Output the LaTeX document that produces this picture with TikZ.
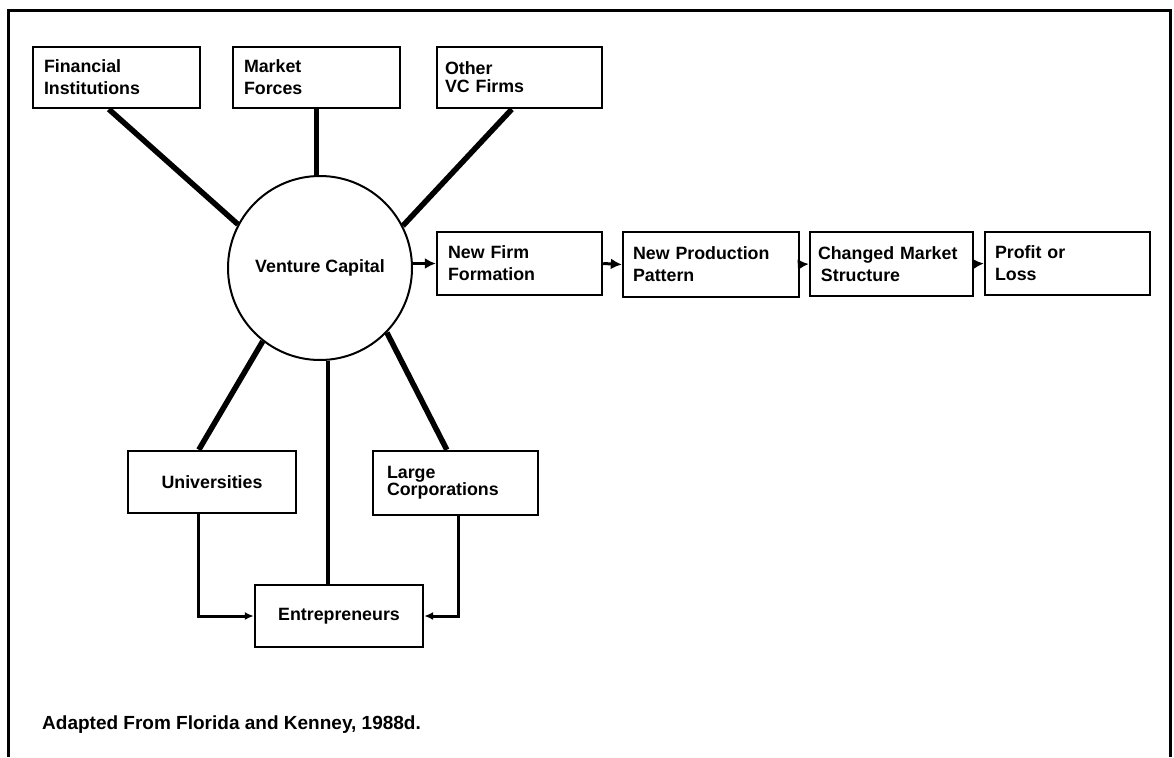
\documentclass[tikz,border=0pt]{standalone}
\usepackage{fontspec}
\setmainfont{Liberation Sans}
\usetikzlibrary{arrows.meta,calc}
\begin{document}
\begin{tikzpicture}[x=1pt,y=-1pt,
  txt/.style={font=\fontsize{17.8}{22}\selectfont\bfseries},
  box/.style={txt, draw, line width=2.4pt, rectangle, align=left, inner xsep=11pt, inner ysep=0pt},
  cbox/.style={box, align=center},
  hub/.style={txt, draw, circle, line width=2pt, minimum size=184pt, inner sep=0pt},
  spoke/.style={line width=5.5pt},
  vspoke/.style={line width=4.5pt},
  link/.style={line width=3pt, -{Latex[length=11pt,width=11pt]}},
  elbow/.style={line width=3pt, -{Latex[length=9pt,width=8pt]}},
  frame/.style={line width=3pt}
]
\useasboundingbox (0,0) rectangle (1174,757);
% frame
\coordinate (fbl) at (8,757);
\coordinate (ftl) at (8,11);
\coordinate (ftr) at (1170,11);
\coordinate (fbr) at (1170,757);
\draw[frame] (fbl) -- (ftl) -- (ftr) -- (fbr);

% top boxes
\node[box, text width=145pt, minimum height=61pt] (fin) at (116.5,77.5) {Financial\\Institutions};
\node[box, text width=145pt, minimum height=61pt] (mkt) at (316.5,77.5) {Market\\Forces};
\node[box, minimum height=61pt, inner xsep=8pt, text width=149pt] (ovc) at (519.5,77.5) {Other\\[-4pt]VC Firms};

% hub
\node[hub] (vc) at (320,268) {Venture Capital};

% chain
\node[box, text width=143pt, minimum height=63pt] (nff) at (519.5,263.5) {New Firm\\Formation};
\node[box, text width=156pt, inner xsep=10pt, minimum height=65pt] (npp) at (711,264.5) {New Production\\Pattern};
\node[box, text width=147pt, inner xsep=8pt, minimum height=64pt] (cms) at (891.5,264) {Changed Market\\\,Structure};
\node[box, text width=145pt, inner xsep=10pt, minimum height=63pt] (pol) at (1067.5,263.5) {Profit or\\Loss};

% lower boxes
\node[cbox, text width=146pt, minimum height=62pt] (uni) at (212,482) {Universities};
\node[box, text width=137pt, inner xsep=14pt, minimum height=64pt] (lc) at (455.5,483) {Large\\[-5pt]Corporations};
\node[cbox, text width=146pt, minimum height=62pt] (ent) at (339,616) {Entrepreneurs};

% caption
\node[txt, font=\fontsize{19}{22}\selectfont\bfseries, anchor=west, inner sep=0pt] (cap) at (42,725) {Adapted From Florida and Kenney, 1988d.};

% spokes
\draw[spoke] ($(fin.south west)+(77,0)$) -- (vc.152);
\draw[vspoke] (mkt.south) -- (mkt.south |- vc.north);
\draw[spoke] ($(ovc.south west)+(76,0)$) -- (vc.27);
\draw[spoke] (vc.232) -- ($(uni.north west)+(72,0)$);
\draw[spoke] (vc.316) -- ($(lc.north west)+(75,0)$);
\draw[vspoke] (vc.-85) -- (vc.-85 |- ent.north);

% chain arrows
\draw[link] (vc.east |- nff.west) -- (nff.west);
\draw[link] (nff.east) -- (npp.west);
\draw[link] (npp.east) -- (cms.west);
\draw[link] (cms.east) -- (pol.west);

% elbows
\draw[elbow] ($(uni.south west)+(72,0)$) |- (ent.west);
\draw[elbow] ($(lc.south west)+(87,0)$) |- (ent.east);
\end{tikzpicture}
\end{document}
